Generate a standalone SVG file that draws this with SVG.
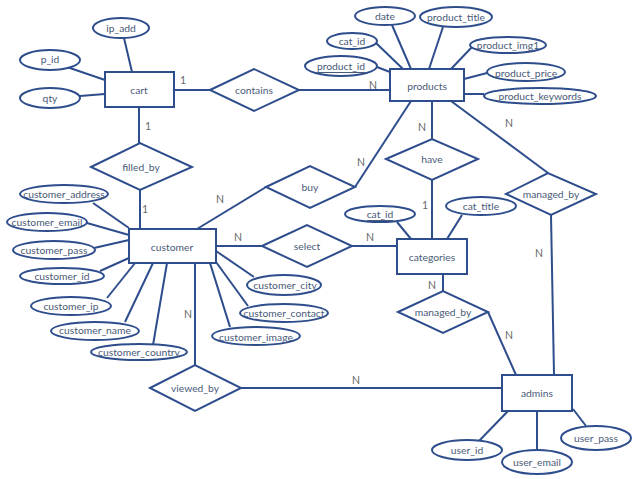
<svg xmlns="http://www.w3.org/2000/svg" width="638" height="479" viewBox="0 0 638 479">
<style>
.s{fill:#fff;stroke:#2E4D8C;stroke-width:2}
.l{stroke:#2E4D8C;stroke-width:2;fill:none}
.t{font-family:Lato,"Open Sans",sans-serif;font-size:10.3px;fill:#4A5A78;text-anchor:middle;dominant-baseline:central}
.c{font-family:Lato,"Open Sans",sans-serif;font-size:10.5px;fill:#666;text-anchor:middle;dominant-baseline:central}
.u{text-decoration:underline}
</style>
<rect width="638" height="479" fill="#fff"/>
<g id="connectors">
<line class="l" x1="124" y1="38" x2="132" y2="72"/>
<line class="l" x1="67" y1="67" x2="105" y2="80"/>
<line class="l" x1="80" y1="96" x2="105" y2="94"/>
<line class="l" x1="174" y1="90" x2="210" y2="90"/>
<line class="l" x1="299" y1="90" x2="390" y2="90"/>
<line class="l" x1="139" y1="107" x2="139" y2="143"/>
<line class="l" x1="140" y1="190" x2="140" y2="229"/>
<line class="l" x1="93" y1="203" x2="129" y2="228"/>
<line class="l" x1="87" y1="223" x2="129" y2="235"/>
<line class="l" x1="94" y1="248" x2="129" y2="240"/>
<line class="l" x1="100" y1="271" x2="129" y2="258"/>
<line class="l" x1="107" y1="298" x2="135" y2="263"/>
<line class="l" x1="125" y1="322" x2="153" y2="263"/>
<line class="l" x1="153" y1="345" x2="167" y2="263"/>
<line class="l" x1="195" y1="263" x2="195" y2="365"/>
<line class="l" x1="230" y1="327" x2="210" y2="263"/>
<line class="l" x1="248" y1="306" x2="216" y2="262"/>
<line class="l" x1="254" y1="277" x2="216" y2="251"/>
<line class="l" x1="216" y1="246" x2="262" y2="246"/>
<line class="l" x1="352" y1="246" x2="397" y2="246"/>
<line class="l" x1="197" y1="229" x2="266" y2="187"/>
<line class="l" x1="355" y1="187" x2="411" y2="101"/>
<line class="l" x1="392" y1="25" x2="411" y2="69"/>
<line class="l" x1="443" y1="27" x2="429" y2="69"/>
<line class="l" x1="376" y1="43" x2="403" y2="69"/>
<line class="l" x1="377" y1="67" x2="390" y2="72"/>
<line class="l" x1="472" y1="47" x2="451" y2="69"/>
<line class="l" x1="487" y1="73" x2="464" y2="79"/>
<line class="l" x1="484" y1="94" x2="464" y2="94"/>
<line class="l" x1="432" y1="101" x2="432" y2="139"/>
<line class="l" x1="432" y1="180" x2="432" y2="239"/>
<line class="l" x1="451" y1="101" x2="548" y2="173"/>
<line class="l" x1="551" y1="215" x2="554" y2="375"/>
<line class="l" x1="397" y1="222" x2="411" y2="239"/>
<line class="l" x1="462" y1="215" x2="447" y2="239"/>
<line class="l" x1="443" y1="274" x2="443" y2="291"/>
<line class="l" x1="488" y1="312" x2="516" y2="375"/>
<line class="l" x1="241" y1="388" x2="502" y2="388"/>
<line class="l" x1="479" y1="441" x2="508" y2="411"/>
<line class="l" x1="537" y1="411" x2="537" y2="450"/>
<line class="l" x1="586" y1="426" x2="573" y2="409"/>
<text class="c" x="183" y="80">1</text>
<text class="c" x="373" y="85">N</text>
<text class="c" x="148" y="126">1</text>
<text class="c" x="145" y="209">1</text>
<text class="c" x="220" y="199">N</text>
<text class="c" x="361" y="162">N</text>
<text class="c" x="238" y="237">N</text>
<text class="c" x="370" y="237">N</text>
<text class="c" x="188" y="314">N</text>
<text class="c" x="422" y="127">N</text>
<text class="c" x="425" y="205">1</text>
<text class="c" x="509" y="123">N</text>
<text class="c" x="539" y="253">N</text>
<text class="c" x="432" y="285">N</text>
<text class="c" x="509" y="335">N</text>
<text class="c" x="356" y="380">N</text>
</g>
<g id="cart"><rect class="s" x="105" y="72" width="69" height="35"/><text class="t" x="139" y="90">cart</text></g>
<g id="ip_add"><ellipse class="s" cx="121" cy="28" rx="28" ry="10"/><text class="t" x="121" y="28">ip_add</text></g>
<g id="p_id"><ellipse class="s" cx="50" cy="60" rx="30" ry="10"/><text class="t" x="50" y="59">p_id</text></g>
<g id="qty"><ellipse class="s" cx="50" cy="98" rx="30" ry="10"/><text class="t" x="50" y="98">qty</text></g>
<g id="contains"><polygon class="s" points="210,90 254,69 299,90 254,111"/><text class="t" x="254" y="90">contains</text></g>
<g id="filled_by"><polygon class="s" points="91,167 140,143 192,167 140,190"/><text class="t" x="141" y="167">filled_by</text></g>
<g id="customer"><rect class="s" x="129" y="229" width="87" height="34"/><text class="t" x="172" y="247">customer</text></g>
<g id="customer_address"><ellipse class="s" cx="64" cy="194" rx="44" ry="9"/><text class="t" x="64" y="194">customer_address</text></g>
<g id="customer_email"><ellipse class="s" cx="47" cy="222" rx="40" ry="9"/><text class="t" x="47" y="222">customer_email</text></g>
<g id="customer_pass"><ellipse class="s" cx="54" cy="250" rx="41" ry="9"/><text class="t" x="54" y="250">customer_pass</text></g>
<g id="customer_id"><ellipse class="s" cx="62" cy="276" rx="42" ry="8"/><text class="t" x="62" y="276">customer_id</text></g>
<g id="customer_ip"><ellipse class="s" cx="71" cy="306" rx="40" ry="9"/><text class="t" x="71" y="306">customer_ip</text></g>
<g id="customer_name"><ellipse class="s" cx="95" cy="331" rx="44" ry="9"/><text class="t" x="95" y="330">customer_name</text></g>
<g id="customer_country"><ellipse class="s" cx="139" cy="352" rx="48" ry="8"/><text class="t" x="139" y="352">customer_country</text></g>
<g id="customer_image"><ellipse class="s" cx="256" cy="336" rx="44" ry="9"/><text class="t" x="256" y="337">customer_image</text></g>
<g id="customer_contact"><ellipse class="s" cx="284" cy="313" rx="44" ry="9"/><text class="t" x="284" y="313">customer_contact</text></g>
<g id="customer_city"><ellipse class="s" cx="284" cy="285" rx="37" ry="10"/><text class="t" x="285" y="285">customer_city</text></g>
<g id="buy"><polygon class="s" points="266,187 310,166 355,187 310,208"/><text class="t" x="310" y="187">buy</text></g>
<g id="select"><polygon class="s" points="262,246 307,225 352,246 307,267"/><text class="t" x="307" y="246">select</text></g>
<g id="products"><rect class="s" x="390" y="69" width="74" height="32"/><text class="t" x="427" y="86">products</text></g>
<g id="date"><ellipse class="s" cx="385" cy="16" rx="30" ry="9"/><text class="t" x="385" y="16">date</text></g>
<g id="product_title"><ellipse class="s" cx="456" cy="17" rx="36" ry="10"/><text class="t" x="456" y="17">product_title</text></g>
<g id="cat_id_p"><ellipse class="s" cx="352" cy="41" rx="25" ry="8"/><text class="t" x="352" y="41">cat_id</text></g>
<g id="product_id"><ellipse class="s" cx="341" cy="66" rx="36" ry="10"/><text class="t u" x="341" y="66">product_id</text></g>
<g id="product_img1"><ellipse class="s" cx="508" cy="45" rx="38" ry="8"/><text class="t" x="508" y="45">product_img1</text></g>
<g id="product_price"><ellipse class="s" cx="526" cy="72" rx="39" ry="9"/><text class="t" x="526" y="73">product_price</text></g>
<g id="product_keywords"><ellipse class="s" cx="540" cy="96" rx="56" ry="8"/><text class="t" x="540" y="96">product_keywords</text></g>
<g id="have"><polygon class="s" points="386,159 432,139 478,159 432,180"/><text class="t" x="432" y="159">have</text></g>
<g id="managed_by_1"><polygon class="s" points="506,194 548,173 596,194 551,215"/><text class="t" x="551" y="194">managed_by</text></g>
<g id="categories"><rect class="s" x="397" y="239" width="70" height="35"/><text class="t" x="432" y="257">categories</text></g>
<g id="cat_id_c"><ellipse class="s" cx="380" cy="214" rx="35" ry="8"/><text class="t u" x="380" y="214">cat_id</text></g>
<g id="cat_title"><ellipse class="s" cx="481" cy="206" rx="35" ry="9"/><text class="t" x="481" y="206">cat_title</text></g>
<g id="managed_by_2"><polygon class="s" points="398,312 443,291 488,312 443,333"/><text class="t" x="443" y="312">managed_by</text></g>
<g id="viewed_by"><polygon class="s" points="150,388 195,365 241,388 195,411"/><text class="t" x="195" y="388">viewed_by</text></g>
<g id="admins"><rect class="s" x="502" y="375" width="70" height="36"/><text class="t" x="537" y="393">admins</text></g>
<g id="user_id"><ellipse class="s" cx="467" cy="450" rx="35" ry="10"/><text class="t" x="467" y="450">user_id</text></g>
<g id="user_email"><ellipse class="s" cx="537" cy="462" rx="35" ry="12"/><text class="t" x="537" y="462">user_email</text></g>
<g id="user_pass"><ellipse class="s" cx="596" cy="438" rx="35" ry="12"/><text class="t" x="596" y="438">user_pass</text></g>
</svg>
